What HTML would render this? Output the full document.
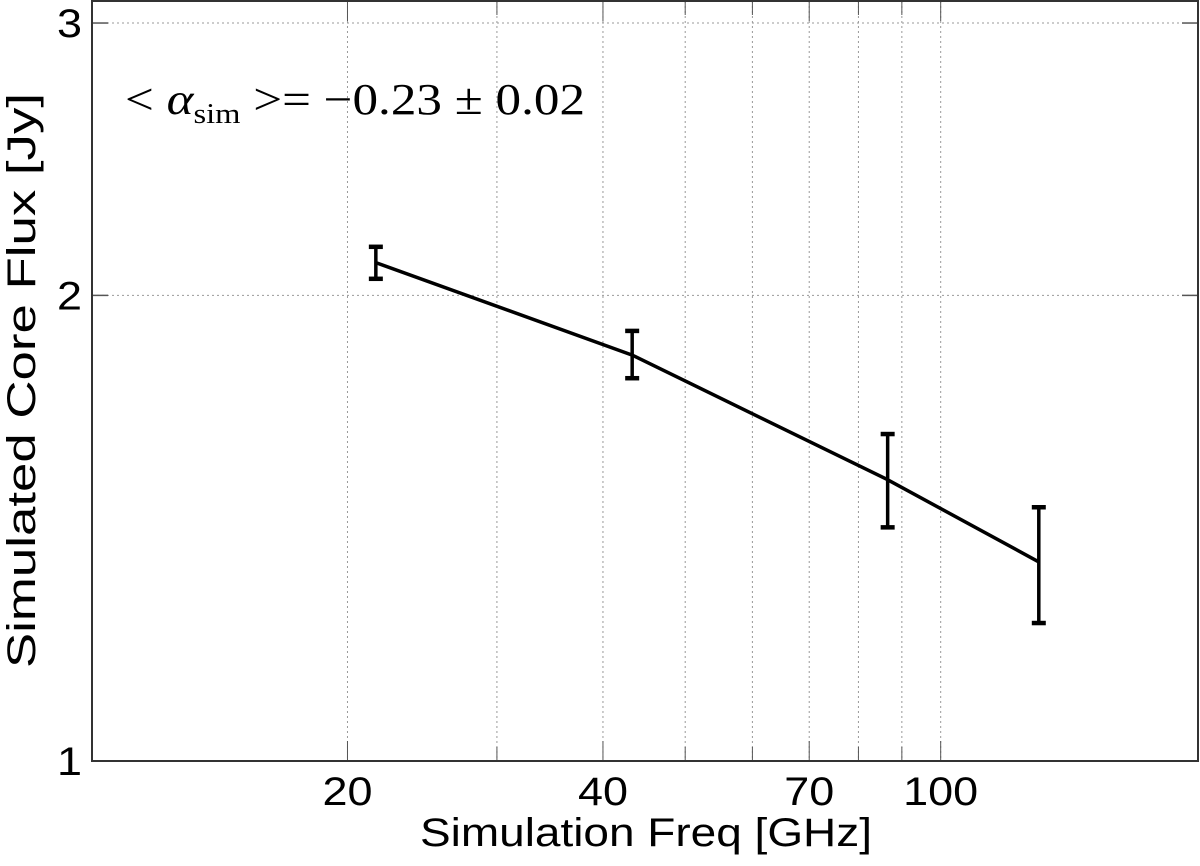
<!DOCTYPE html>
<html><head><meta charset="utf-8"><style>
body{margin:0;background:#fff;width:1200px;height:861px;overflow:hidden}
</style></head><body>
<svg id="chart" width="1200" height="861" viewBox="0 0 1200 861" xmlns="http://www.w3.org/2000/svg" style="font-family:'Liberation Sans',Arial,sans-serif">
<g id="grid"></g>
<g id="axes"></g>
<g id="series"></g>
<text x="125" y="114" style="font-family:'Liberation Serif',serif" font-size="44" fill="#000" textLength="460" lengthAdjust="spacingAndGlyphs">&lt; <tspan font-style="italic">α</tspan><tspan font-size="28" dy="9">sim</tspan><tspan dy="-9"> &gt;= −0.23 ± 0.02</tspan></text>
<text x="420" y="846" font-size="40" fill="#000" textLength="452" lengthAdjust="spacingAndGlyphs">Simulation Freq [GHz]</text>
<text transform="translate(35,668) rotate(-90)" font-size="40" fill="#000" textLength="575" lengthAdjust="spacingAndGlyphs">Simulated Core Flux [Jy]</text>
</svg>
<script>
const freqs=[21.6,43.3,86.6,130.5];
const flux=[2.10,1.83,1.52,1.345];
const errLow=[2.05,1.768,1.416,1.228];
const errHigh=[2.15,1.897,1.627,1.459];
const xTicks=[20,40,70,100];
const xGrid=[20,30,40,50,60,70,80,90,100];
const yTicks=[1,2,3];
const L=92,R=1198,T=1,B=761;
const xMin=10,xMax=201,yMin=1,yMax=3.1;
function X(v){return L+(Math.log10(v)-Math.log10(xMin))/(Math.log10(xMax)-Math.log10(xMin))*(R-L);}
function Y(v){return B-(Math.log10(v)-Math.log10(yMin))/(Math.log10(yMax)-Math.log10(yMin))*(B-T);}
const NS="http://www.w3.org/2000/svg";
function mk(tag,attrs,parent){const e=document.createElementNS(NS,tag);for(const k in attrs)e.setAttribute(k,attrs[k]);parent.appendChild(e);return e;}
const grid=document.getElementById('grid'),axes=document.getElementById('axes'),ser=document.getElementById('series');
xGrid.forEach(v=>{const x=X(v);
 const g=mk('line',{x1:x,x2:x,y1:T,y2:B,stroke:'#999','stroke-width':1,'stroke-dasharray':'2,3'},grid);
 
 
 const len=xTicks.includes(v)?20:14;
 const t1=mk('line',{x1:x,x2:x,y1:B,y2:B-len,stroke:'#555','stroke-width':1},axes);
 
 
 const t2=mk('line',{x1:x,x2:x,y1:T,y2:T+len,stroke:'#555','stroke-width':1},axes);
 
 
});
xTicks.forEach(v=>{const s=String(v);const w=s.length*25;
 const t=mk('text',{x:X(v)-w/2,y:805,'font-size':40,fill:'#000',textLength:w,lengthAdjust:'spacingAndGlyphs'},axes);t.textContent=s;
 
 });
yTicks.forEach(v=>{const y=Y(v);
 if(v>1){const g=mk('line',{x1:L,x2:R,y1:y,y2:y,stroke:'#999','stroke-width':1,'stroke-dasharray':'2,3'},grid);
 
 }
 const t1=mk('line',{x1:L,x2:L+16,y1:y,y2:y,stroke:'#555','stroke-width':1.5},axes);
 
 
 const t2=mk('line',{x1:R-16,x2:R,y1:y,y2:y,stroke:'#555','stroke-width':1.5},axes);
 
 
 const t=mk('text',{x:57,y:y+14,'font-size':40,fill:'#000',textLength:25,lengthAdjust:'spacingAndGlyphs'},axes);t.textContent=v;
 
 
});
const box=mk('rect',{x:L,y:T,width:R-L,height:B-T,fill:'none',stroke:'#333','stroke-width':2},axes);


const pl=mk('polyline',{points:freqs.map((f,i)=>X(f)+','+Y(flux[i])).join(' '),fill:'none',stroke:'#000','stroke-width':3.5},ser);


freqs.forEach((f,i)=>{const x=X(f),y1=Y(errHigh[i]),y2=Y(errLow[i]);
 const g=mk('g',{},ser);
 
 
 mk('line',{x1:x,x2:x,y1:y1,y2:y2,stroke:'#000','stroke-width':3.5},g);
 mk('line',{x1:x-7,x2:x+7,y1:y1,y2:y1,stroke:'#000','stroke-width':4.5},g);
 mk('line',{x1:x-7,x2:x+7,y1:y2,y2:y2,stroke:'#000','stroke-width':4.5},g);
});
</script>
</body></html>
